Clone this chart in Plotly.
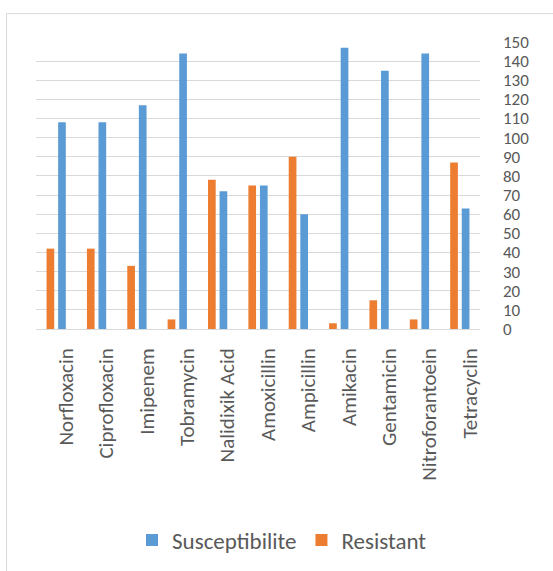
import plotly.graph_objects as go

categories = ["Norfloxacin", "Ciprofloxacin", "Imipenem", "Tobramycin", "Nalidixik Acid",
              "Amoxicillin", "Ampicillin", "Amikacin", "Gentamicin", "Nitroforantoein", "Tetracyclin"]
susceptibilite = [108, 108, 117, 144, 72, 75, 60, 147, 135, 144, 63]
resistant = [42, 42, 33, 5, 78, 75, 90, 3, 15, 5, 87]
y_ticks = list(range(0, 151, 10))

BLUE = "#5B9BD5"
ORANGE = "#ED7D31"
TEXT = "#595959"
GRID = "#D9D9D9"
FONT = "Carlito, Calibri, Lato, sans-serif"

fig = go.Figure()
fig.add_trace(go.Bar(x=categories, y=resistant, name="Resistant",
                     marker=dict(color=ORANGE, line=dict(width=0))))
fig.add_trace(go.Bar(x=categories, y=susceptibilite, name="Susceptibilite",
                     marker=dict(color=BLUE, line=dict(width=0))))

W, H = 553, 571
ml, mr, mt, mb = 36, 73, 42, 241
pw, ph = W - ml - mr, H - mt - mb

fig.update_layout(
    width=W, height=H,
    margin=dict(l=ml, r=mr, t=mt, b=mb, pad=0),
    paper_bgcolor="white", plot_bgcolor="white",
    barmode="group", bargap=0.426, bargroupgap=0.336,
    font=dict(family=FONT, color=TEXT),
    showlegend=True,
    legend=dict(orientation="h", traceorder="reversed",
                x=(282 - ml) / pw, xanchor="center",
                y=(mt + ph - 540) / ph, yanchor="middle",
                font=dict(size=23, color=TEXT, family=FONT),
                itemwidth=30, bgcolor="rgba(0,0,0,0)"),
    xaxis=dict(type="category", showgrid=False, showline=False, zeroline=False,
               ticks="", tickangle=-90, tickfont=dict(size=21, color=TEXT, family=FONT),
               ticklabelstandoff=14, ticklabelshift=10),
    yaxis=dict(side="right", range=[0, 150], tickvals=y_ticks,
               showgrid=True, gridcolor=GRID, gridwidth=1,
               zeroline=True, zerolinecolor=GRID, zerolinewidth=1,
               showline=False, ticks="",
               tickfont=dict(size=17, color=TEXT, family=FONT),
               ticklabelstandoff=22),
    shapes=[dict(type="rect", xref="paper", yref="paper",
                 x0=(6.5 - ml) / pw, x1=2.0,
                 y0=-2.0, y1=(mt + ph - 13.5) / ph,
                 line=dict(color=GRID, width=1), fillcolor="rgba(0,0,0,0)", layer="below")],
)

fig.write_html("out.html")
